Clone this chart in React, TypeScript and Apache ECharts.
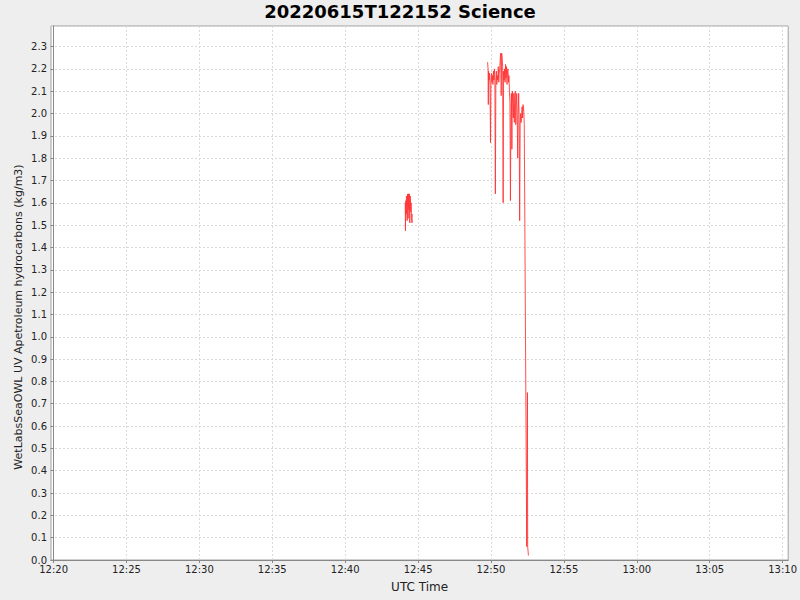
import React, { useEffect, useRef } from "react";
import * as echarts from "echarts";

const TITLE = "20220615T122152 Science";
const X_NAME = "UTC Time";
const Y_NAME = "WetLabsSeaOWL UV Apetroleum hydrocarbons (kg/m3)";

// x tick labels (UTC)
const xTickLabels = ["12:20", "12:25", "12:30", "12:35", "12:40", "12:45", "12:50", "12:55", "13:00", "13:05", "13:10"];

// first burst of samples
const times1 = [
  "12:44:07", "12:44:08", "12:44:09", "12:44:10", "12:44:11", "12:44:12", "12:44:13", "12:44:14",
  "12:44:15", "12:44:16", "12:44:17", "12:44:18", "12:44:19", "12:44:20", "12:44:21", "12:44:22",
  "12:44:23", "12:44:24", "12:44:25", "12:44:26", "12:44:27", "12:44:28", "12:44:29", "12:44:30",
  "12:44:31", "12:44:33", "12:44:35", "12:44:36",
];
const values1 = [
  1.60, 1.475, 1.58, 1.61, 1.55, 1.63, 1.62, 1.58,
  1.52, 1.60, 1.64, 1.64, 1.53, 1.63, 1.64, 1.57,
  1.63, 1.64, 1.55, 1.51, 1.62, 1.63, 1.60, 1.56,
  1.60, 1.53, 1.51, 1.55,
];

// second burst of samples
const times2 = [
  "12:49:46", "12:49:48", "12:49:49", "12:49:50", "12:49:52", "12:49:54", "12:49:56", "12:49:58",
  "12:50:00", "12:50:02", "12:50:04", "12:50:06", "12:50:08", "12:50:10", "12:50:12", "12:50:14",
  "12:50:16", "12:50:18", "12:50:20", "12:50:22", "12:50:24", "12:50:26", "12:50:28", "12:50:30",
  "12:50:32", "12:50:34", "12:50:36", "12:50:38", "12:50:40", "12:50:42", "12:50:44", "12:50:46",
  "12:50:48", "12:50:50", "12:50:52", "12:50:54", "12:50:56", "12:50:58", "12:51:00", "12:51:02",
  "12:51:04", "12:51:06", "12:51:08", "12:51:10", "12:51:12", "12:51:14", "12:51:16", "12:51:18",
  "12:51:20", "12:51:22", "12:51:24", "12:51:26", "12:51:28", "12:51:30", "12:51:32", "12:51:34",
  "12:51:36", "12:51:38", "12:51:40", "12:51:42", "12:51:44", "12:51:46", "12:51:48", "12:51:50",
  "12:51:52", "12:51:54", "12:51:56", "12:51:58", "12:52:00", "12:52:02", "12:52:04", "12:52:06",
  "12:52:08", "12:52:10", "12:52:12", "12:52:15", "12:52:17", "12:52:27", "12:52:30", "12:52:31",
  "12:52:33", "12:52:34",
];
const values2 = [
  2.23, 2.20, 2.04, 2.19, 2.15, 2.18, 2.13, 1.87,
  2.15, 2.18, 2.14, 2.17, 2.13, 2.19, 2.15, 2.20,
  2.16, 1.64, 2.14, 2.19, 2.13, 2.17, 2.15, 2.21,
  2.14, 2.18, 2.20, 2.24, 2.27, 2.08, 2.27, 2.25,
  2.21, 1.60, 2.19, 2.15, 2.20, 2.14, 2.22, 2.16,
  2.21, 2.13, 2.19, 2.20, 2.14, 2.17, 2.10, 2.05,
  1.61, 1.97, 2.09, 1.84, 2.10, 2.05, 1.98, 2.09,
  1.96, 2.08, 2.10, 1.95, 2.03, 2.09, 1.99, 1.80,
  2.00, 2.09, 1.97, 1.52, 1.95, 2.00, 1.96, 1.99,
  2.03, 1.98, 2.04, 2.01, 1.95, 0.06, 0.75, 0.06,
  0.06, 0.02,
];

// seconds relative to 12:20:00
const toSec = (s: string) => {
  const [h, m, sec] = s.split(":").map(Number);
  return (h - 12) * 3600 + (m - 20) * 60 + (sec || 0);
};

const FONT = "DejaVu Sans";

export default function App() {
  const ref = useRef<HTMLDivElement>(null);
  useEffect(() => {
    document.body.style.margin = "0";
    const chart = echarts.init(ref.current!, null, { renderer: "svg" });
    const data: (number | null)[][] = [];
    times1.forEach((t, i) => data.push([toSec(t), values1[i]]));
    data.push([(toSec(times1[times1.length - 1]) + toSec(times2[0])) / 2, null as any]);
    times2.forEach((t, i) => data.push([toSec(t), values2[i]]));
    const tickVals = xTickLabels.map((t) => toSec(t + ":00"));

    chart.setOption({
      animation: false,
      backgroundColor: "#eeeeee",
      title: {
        text: TITLE,
        left: "center",
        top: 2,
        padding: 0,
        textStyle: { fontFamily: FONT, fontSize: 18, fontWeight: "bold", color: "#000" },
      },
      grid: {
        left: 51,
        right: 8,
        top: 26,
        bottom: 40,
        show: true,
        backgroundColor: "#ffffff",
        borderColor: "#a0a0a0",
        borderWidth: 1,
      },
      xAxis: {
        type: "value",
        min: -10.6,
        max: 3023,
        name: X_NAME,
        nameLocation: "middle",
        nameGap: 21,
        nameTextStyle: { fontFamily: FONT, fontSize: 12, color: "#222" },
        axisLine: { lineStyle: { color: "#888888" } },
        axisTick: { show: true, length: 3, customValues: tickVals, lineStyle: { color: "#888888" } },
        axisLabel: {
          customValues: tickVals,
          formatter: (v: number) => {
            const i = tickVals.indexOf(Math.round(v));
            return i >= 0 ? xTickLabels[i] : "";
          },
          fontFamily: FONT,
          fontSize: 10,
          color: "#222",
          margin: 4,
        },
        splitLine: { show: true, lineStyle: { color: "#dadada", type: [2, 2], width: 1 } },
      },
      yAxis: {
        type: "value",
        min: 0,
        max: 2.392,
        interval: 0.1,
        axisLine: { show: true, lineStyle: { color: "#888888" } },
        axisTick: { show: true, length: 3, lineStyle: { color: "#888888" } },
        axisLabel: {
          showMaxLabel: false,
          formatter: (v: number) => v.toFixed(1),
          fontFamily: FONT,
          fontSize: 10,
          color: "#222",
          margin: 4,
        },
        splitLine: { show: true, lineStyle: { color: "#dadada", type: [2, 2], width: 1 } },
      },
      graphic: [
        {
          type: "text",
          x: 18,
          y: 317,
          rotation: Math.PI / 2,
          style: {
            text: Y_NAME,
            fontFamily: FONT,
            fontSize: 11,
            fill: "#222",
            align: "center",
            verticalAlign: "middle",
          },
        },
      ],
      series: [
        {
          type: "line",
          data,
          showSymbol: false,
          connectNulls: false,
          lineStyle: { color: "#ff3030", width: 1, opacity: 0.85 },
          itemStyle: { color: "#ff3030" },
        },
      ],
    });
    return () => chart.dispose();
  }, []);
  return <div ref={ref} style={{ width: 800, height: 600 }} />;
}
